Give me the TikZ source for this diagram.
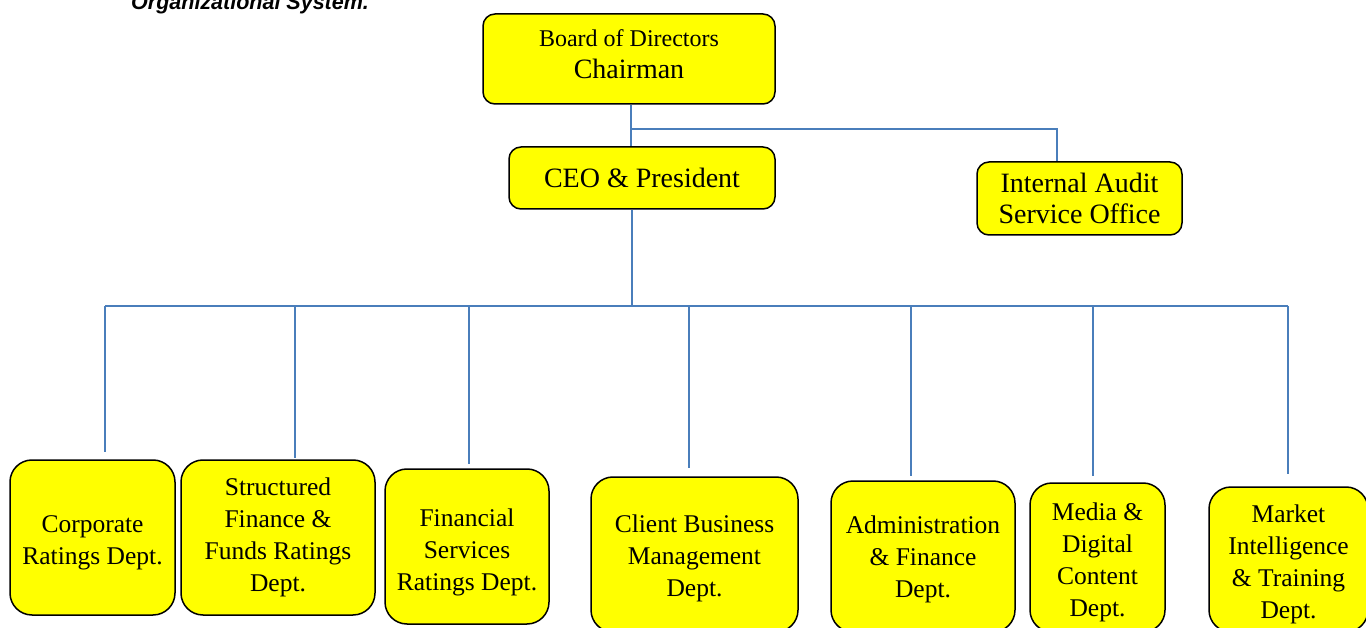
\documentclass[tikz,border=0pt]{standalone}
\usepackage{fontspec}
\setmainfont{Liberation Serif}
\setsansfont{Liberation Sans}
\definecolor{boxyellow}{HTML}{FFFF00}
\definecolor{linkblue}{HTML}{4A7EBB}
\newcommand\tdn[1]{\rule{0pt}{#1pt}}
\newcommand\tup[1]{\rule[-#1pt]{0pt}{0pt}}
\tikzset{
  orgbox/.style={draw=black, line width=1.5pt, fill=boxyellow, rounded corners=12pt, inner sep=0pt, align=center},
  deptbox/.style={orgbox, rounded corners=22pt, font=\fontsize{25.5}{32}\selectfont},
  link/.style={draw=linkblue, line width=1.6pt}
}
\begin{document}
\begin{tikzpicture}[x=1pt,y=-1pt]
\clip (0,0) rectangle (1366,628);
\useasboundingbox (0,0) rectangle (1366,628);

\node[anchor=base west, inner sep=0pt, font=\sffamily\bfseries\itshape\fontsize{21.5}{24}\selectfont] (title) at (131,9.5) {Organizational System.};

\node[orgbox, minimum width=292pt, minimum height=90pt, font=\fontsize{24}{32}\selectfont] (board) at (629,59)
  {Board of Directors\\{\fontsize{28}{32}\selectfont Chairman}\tup{10}};
\node[orgbox, minimum width=266pt, minimum height=62pt, font=\fontsize{28}{32}\selectfont] (ceo) at (642,178) {CEO \& President};
\node[orgbox, minimum width=205pt, minimum height=73pt, font=\fontsize{28}{31}\selectfont] (audit) at (1079.5,198.5) {Internal Audit\\Service Office};

\node[deptbox, minimum width=165pt, minimum height=155pt] (d1) at (92.5,537.5) {\tdn{28}Corporate\\Ratings Dept.};
\node[deptbox, minimum width=194pt, minimum height=155pt] (d2) at (278,537.5) {Structured\\Finance \&\\Funds Ratings\\Dept.};
\node[deptbox, minimum width=164pt, minimum height=155pt] (d3) at (467,546.5) {\tdn{30}Financial\\Services\\Ratings Dept.};
\node[deptbox, minimum width=207pt, minimum height=155pt] (d4) at (694.5,554.5) {\tdn{25}Client Business\\Management\\Dept.};
\node[deptbox, minimum width=184pt, minimum height=151pt] (d5) at (923,556.5) {\tdn{23}Administration\\\& Finance\\Dept.};
\node[deptbox, minimum width=135pt, minimum height=149pt] (d6) at (1097.5,557.5) {\tdn{27}Media \&\\Digital\\Content\\Dept.};
\node[deptbox, minimum width=159pt, minimum height=145pt] (d7) at (1288.5,559.5) {\tdn{27}Market\\Intelligence\\\& Training\\Dept.};

% top connectors
\draw[link] ([xshift=2pt]board.south) -- ([xshift=2pt]board.south |- ceo.north);
\coordinate (j1) at (631,129);
\draw[link] (j1) -| ([xshift=-22.5pt]audit.north);

% bus
\coordinate (bus) at (632,306);
\draw[link] ([xshift=-10pt]ceo.south) -- (bus);
\coordinate (c1) at ([xshift=12.5pt,yshift=7pt]d1.north);
\coordinate (c2) at ([xshift=17pt,yshift=1pt]d2.north);
\coordinate (c3) at ([xshift=2pt,yshift=4pt]d3.north);
\coordinate (c4) at ([xshift=-5.5pt,yshift=8pt]d4.north);
\coordinate (c5) at ([xshift=-12pt,yshift=4pt]d5.north);
\coordinate (c6) at ([xshift=-4.5pt,yshift=6pt]d6.north);
\coordinate (c7) at ([xshift=-0.5pt,yshift=12pt]d7.north);
\draw[link] (c1 |- bus) -- (c7 |- bus);
\foreach \c in {c1,c2,c3,c4,c5,c6,c7}{
  \draw[link] (\c |- bus) -- (\c);
}
\end{tikzpicture}
\end{document}
